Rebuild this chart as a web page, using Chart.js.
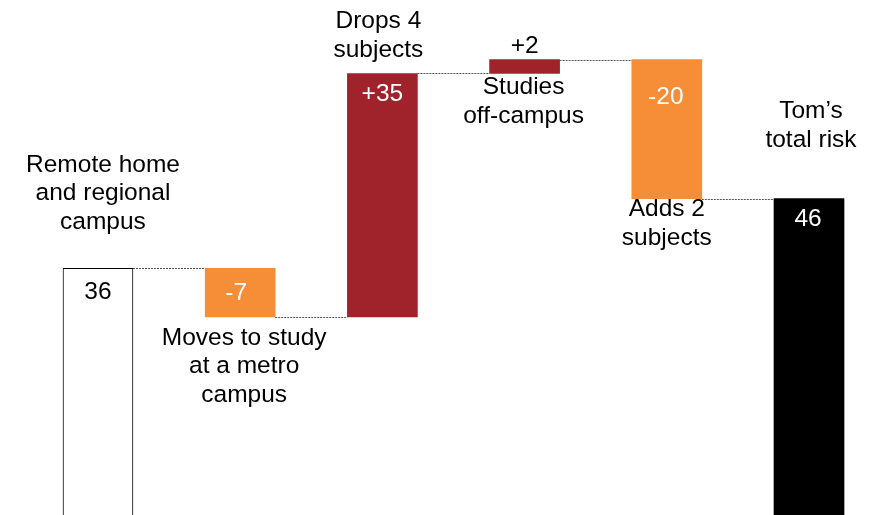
<!DOCTYPE html>
<html>
<head>
<meta charset="utf-8">
<script src="https://cdn.jsdelivr.net/npm/chart.js@4.4.1/dist/chart.umd.min.js"></script>
<style>
  html, body { margin: 0; padding: 0; background: #fff; }
  #wrap { position: relative; width: 872px; height: 515px; }
</style>
</head>
<body>
<div id="wrap"><canvas id="waterfall"></canvas></div>
<script>
// step names, one entry per line of text
const steps = [
    ['Remote home', 'and regional', 'campus'],
    ['Moves to study', 'at a metro', 'campus'],
    ['Drops 4', 'subjects'],
    ['Studies', 'off-campus'],
    ['Adds 2', 'subjects'],
    ['Tom\u2019s', 'total risk']
];
const kinds = ['start', 'delta', 'delta', 'delta', 'delta', 'total'];
const changes = [36, -7, 35, 2, -20, 46];
const valueLabels = ['36', '-7', '+35', '+2', '-20', '46'];

const colors = ['#ffffff', '#F68D37', '#A0222A', '#A0222A', '#F68D37', '#000000'];
const valueColors = ['#000', '#fff', '#fff', '#000', '#fff', '#fff'];

// where the step text sits: edge of bar, offset of first line, shift in x
const nameLayout = [
    { edge: 'top', dy: -103, dx: 5 },
    { edge: 'bottom', dy: 21, dx: 4 },
    { edge: 'top', dy: -52, dx: -4 },
    { edge: 'bottom', dy: 14, dx: -1 },
    { edge: 'bottom', dy: 11, dx: 0 },
    { edge: 'top', dy: -87, dx: 2 }
];
const valueLayout = [
    { dy: 24, dx: 0 },
    { dy: 25, dx: -4 },
    { dy: 21, dx: 0 },
    { dy: -13, dx: 0 },
    { dy: 38, dx: -1 },
    { dy: 21, dx: -1 }
];

const FONT = '24.5px "Liberation Sans", Arial, sans-serif';
const LINE_H = 28.5;

// build floating ranges from the running total
var ranges = [];
var total = 0;
for (var i = 0; i < changes.length; i++) {
    if (kinds[i] === 'delta') {
        ranges.push([total, total + changes[i]]);
        total += changes[i];
    } else {
        ranges.push([0, changes[i]]);
        total = changes[i];
    }
}

var annotate = {
    id: 'annotate',
    afterDatasetsDraw(chart) {
        const ctx = chart.ctx;
        const y = chart.scales.y;
        const bars = chart.getDatasetMeta(0).data;

        // dotted connectors
        ctx.save();
        ctx.strokeStyle = '#555';
        ctx.lineWidth = 1;
        ctx.setLineDash([2, 1]);
        for (var i = 0; i < bars.length - 1; i++) {
            const level = Math.round(y.getPixelForValue(ranges[i][1])) + 0.5;
            const x0 = bars[i].x + bars[i].width / 2;
            const x1 = bars[i + 1].x - bars[i + 1].width / 2;
            ctx.beginPath();
            ctx.moveTo(x0, level);
            ctx.lineTo(x1, level);
            ctx.stroke();
        }
        ctx.restore();

        ctx.save();
        ctx.font = FONT;
        ctx.textAlign = 'center';
        ctx.textBaseline = 'middle';
        for (var i = 0; i < bars.length; i++) {
            const top = y.getPixelForValue(Math.max(ranges[i][0], ranges[i][1]));
            const bottom = y.getPixelForValue(Math.min(ranges[i][0], ranges[i][1]));
            const cx = bars[i].x;

            const nl = nameLayout[i];
            const start = (nl.edge === 'top' ? top : bottom) + nl.dy;
            ctx.fillStyle = '#000';
            steps[i].forEach((line, k) => {
                ctx.fillText(line, cx + nl.dx, start + k * LINE_H);
            });

            const vl = valueLayout[i];
            ctx.fillStyle = valueColors[i];
            ctx.fillText(valueLabels[i], cx + vl.dx, top + vl.dy);
        }
        ctx.restore();
    }
};

var chart = new Chart(document.getElementById('waterfall'), {
    type: 'bar',
    data: {
        datasets: [{
            data: ranges.map((r, i) => ({ x: i, y: r })),
            backgroundColor: colors,
            borderColor: '#000',
            borderWidth: [1, 0, 0, 0, 0, 0],
            borderSkipped: 'start',
            barThickness: 70
        }]
    },
    options: {
        responsive: true,
        maintainAspectRatio: false,
        animation: false,
        layout: { padding: 0 },
        plugins: {
            legend: { display: false },
            tooltip: { enabled: false }
        },
        scales: {
            x: { type: 'linear', offset: false, min: -0.689, max: 5.443, display: false },
            y: { min: 0.53, max: 74.56, display: false }
        }
    },
    plugins: [annotate]
});
</script>
</body>
</html>
